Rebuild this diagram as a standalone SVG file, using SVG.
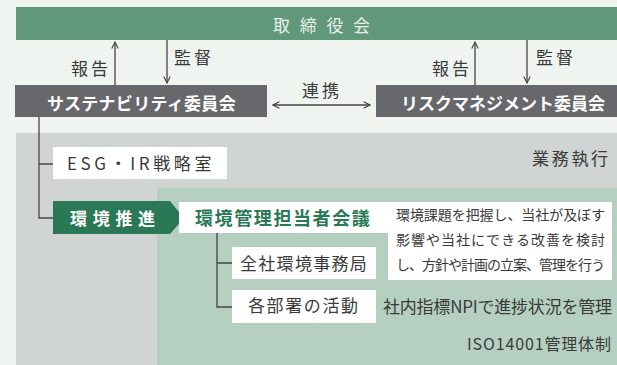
<svg xmlns="http://www.w3.org/2000/svg" width="617" height="365" viewBox="0 0 617 365">
<defs>
<style>
text{font-family:"Noto Sans CJK JP","Noto Sans",sans-serif;}
.t{fill:#3a3a3a;font-size:17px;}
.w{fill:#ffffff;font-size:17px;font-weight:bold;}
.ln{stroke:#454545;stroke-width:1.3;fill:none;}
</style>
<marker id="ah" viewBox="0 0 10 10" refX="9" refY="5" markerWidth="8" markerHeight="8" markerUnits="userSpaceOnUse" orient="auto-start-reverse">
<path d="M1,1 L9,5 L1,9" fill="none" stroke="#454545" stroke-width="1.4"/>
</marker>
</defs>
<rect x="0" y="0" width="617" height="365" fill="#eff4f0"/>
<rect x="16" y="133" width="601" height="232" fill="#d0d4d2"/>
<rect x="157" y="188" width="460" height="177" fill="#b5cfc1"/>
<text class="t" x="532" y="164.5" letter-spacing="2.7">業務執行</text>
<text class="t" x="467" y="350" textLength="144" lengthAdjust="spacing" style="font-size:16px">ISO14001管理体制</text>

<g id="board">
<rect x="16" y="7" width="601" height="33" fill="#62987a"/>
<text x="273" y="32" fill="#e9f1ec" style="font-size:17px" letter-spacing="9.7">取締役会</text>
</g>
<g id="sustainability">
<rect x="15" y="85" width="252" height="32" fill="#67686b"/>
<text class="w" x="47" y="109.5" letter-spacing="0.3">サステナビリティ委員会</text>
</g>
<g id="risk">
<rect x="376" y="85" width="241" height="32" fill="#67686b"/>
<text class="w" x="401" y="109.5" letter-spacing="0">リスクマネジメント委員会</text>
</g>
<g id="esg">
<rect x="53" y="147" width="174" height="32" fill="#ffffff"/>
<text class="t" x="67" y="169.5" letter-spacing="3.6">ESG・IR戦略室</text>
</g>
<g id="kankyo-suishin">
<path d="M53,201 H170 L184,218 L170,234 H53 Z" fill="#2a7856"/>
<text class="w" x="70" y="224.5" letter-spacing="5.7">環境推進</text>
</g>
<g id="kaigi">
<rect x="179" y="202" width="210" height="31" fill="#ffffff"/>
<text x="195" y="225" fill="#2a7856" style="font-size:18px;font-weight:bold" letter-spacing="1.6">環境管理担当者会議</text>
</g>
<g id="desc">
<rect x="388" y="202" width="224" height="78" fill="#ffffff"/>
<text class="t" style="font-size:14px" x="396" y="220" textLength="209" lengthAdjust="spacing">環境課題を把握し、当社が及ぼす</text>
<text class="t" style="font-size:14px" x="396" y="245" textLength="209" lengthAdjust="spacing">影響や当社にできる改善を検討</text>
<text class="t" style="font-size:14px" x="396" y="270" textLength="209" lengthAdjust="spacing">し、方針や計画の立案、管理を行う</text>
</g>
<g id="jimukyoku">
<rect x="232" y="247" width="144" height="32" fill="#ffffff"/>
<text class="t" x="240" y="269.5" letter-spacing="1.3">全社環境事務局</text>
</g>
<g id="busho">
<rect x="232" y="290" width="144" height="33" fill="#ffffff"/>
<text class="t" x="248" y="311.5" letter-spacing="1.6">各部署の活動</text>
</g>
<g id="npi">
<text class="t" x="383" y="313" textLength="229" lengthAdjust="spacing">社内指標NPIで進捗状況を管理</text>
</g>

<g id="connectors">
<line class="ln" x1="115" y1="85" x2="115" y2="42" marker-end="url(#ah)"/>
<line class="ln" x1="167" y1="40" x2="167" y2="83" marker-end="url(#ah)"/>
<line class="ln" x1="475" y1="85" x2="475" y2="42" marker-end="url(#ah)"/>
<line class="ln" x1="527" y1="40" x2="527" y2="83" marker-end="url(#ah)"/>
<line class="ln" x1="273" y1="105" x2="370" y2="105" marker-start="url(#ah)" marker-end="url(#ah)"/>
<path class="ln" d="M39,117 V218 H53 M39,164 H53"/>
<path class="ln" d="M217,233 V307 H232 M217,263 H232"/>
<text class="t" x="71" y="74.5" letter-spacing="3">報告</text>
<text class="t" x="174" y="63.5" letter-spacing="3">監督</text>
<text class="t" x="432" y="74.5" letter-spacing="3">報告</text>
<text class="t" x="536" y="63.5" letter-spacing="3">監督</text>
<text class="t" x="302" y="96.5" letter-spacing="3">連携</text>
</g>
</svg>
